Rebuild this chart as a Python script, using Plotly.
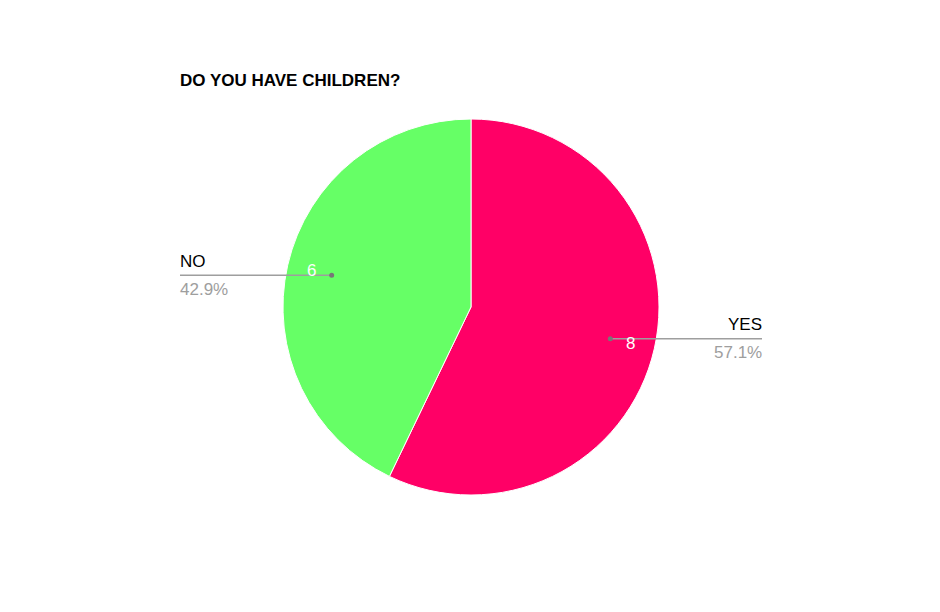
import math
import plotly.graph_objects as go

# Data
categories = ["YES", "NO"]
values = [8, 6]
colors = ["#FF0066", "#66FF66"]
title_text = "DO YOU HAVE CHILDREN?"

W, H = 940, 612
OFF = 8  # page offset of the plot in the browser
cx, cy, R = 471 - OFF, 307 - OFF, 188  # pie centre/radius in pixels


def px(x):
    return x / W


def py(y):
    return 1 - y / H


fig = go.Figure(go.Pie(
    labels=categories, values=values, sort=False, direction="clockwise", rotation=0,
    marker=dict(colors=colors, line=dict(color="white", width=1)),
    textinfo="none", hoverinfo="label+value+percent", showlegend=False,
    domain=dict(x=[px(cx - R), px(cx + R)], y=[py(cy + R), py(cy - R)]),
))

FONT = "Liberation Sans, Arial"
total = sum(values)
shapes, annots = [], []
start = 0.0
for lab, v in zip(categories, values):
    frac = v / total
    mid = (start + frac / 2) * 2 * math.pi
    start += frac
    sx, sy = math.sin(mid), math.cos(mid)
    dx, dy = cx + 0.76 * R * sx, cy - 0.76 * R * sy
    right = sx > 0
    xend = (762 if right else 180) - OFF
    shapes.append(dict(type="line", xref="paper", yref="paper",
                       x0=px(dx), y0=py(dy), x1=px(xend), y1=py(dy),
                       line=dict(color="#9E9E9E", width=1.5)))
    shapes.append(dict(type="circle", xref="paper", yref="paper",
                       x0=px(dx - 2.5), x1=px(dx + 2.5), y0=py(dy + 2.5), y1=py(dy - 2.5),
                       fillcolor="#777777", line=dict(width=0)))
    tx, ty = cx + 0.87 * R * sx, cy - 0.87 * R * sy
    annots.append(dict(x=px(tx), y=py(ty), xref="paper", yref="paper",
                       text=str(v), showarrow=False, xanchor="center", yanchor="middle",
                       font=dict(color="white", size=17, family=FONT)))
    anchor = "right" if right else "left"
    shift = 2 if right else -2
    annots.append(dict(x=px(xend), y=py(dy - 14), xref="paper", yref="paper",
                       text=lab, showarrow=False, xanchor=anchor, yanchor="middle",
                       xshift=shift,
                       font=dict(color="#000000", size=17, family=FONT)))
    annots.append(dict(x=px(xend), y=py(dy + 14), xref="paper", yref="paper",
                       text=f"{frac * 100:.1f}%", showarrow=False, xanchor=anchor, yanchor="middle",
                       xshift=shift,
                       font=dict(color="#9E9E9E", size=17, family=FONT)))

annots.append(dict(x=px(180 - OFF), y=py(80 - OFF), xref="paper", yref="paper",
                   text="<b>" + title_text + "</b>", showarrow=False,
                   xanchor="left", yanchor="middle", xshift=-2,
                   font=dict(color="#000000", size=17, family=FONT)))

fig.update_layout(width=W, height=H, margin=dict(l=0, r=0, t=0, b=0),
                  paper_bgcolor="white", plot_bgcolor="white",
                  shapes=shapes, annotations=annots)
fig.write_html("out.html")
